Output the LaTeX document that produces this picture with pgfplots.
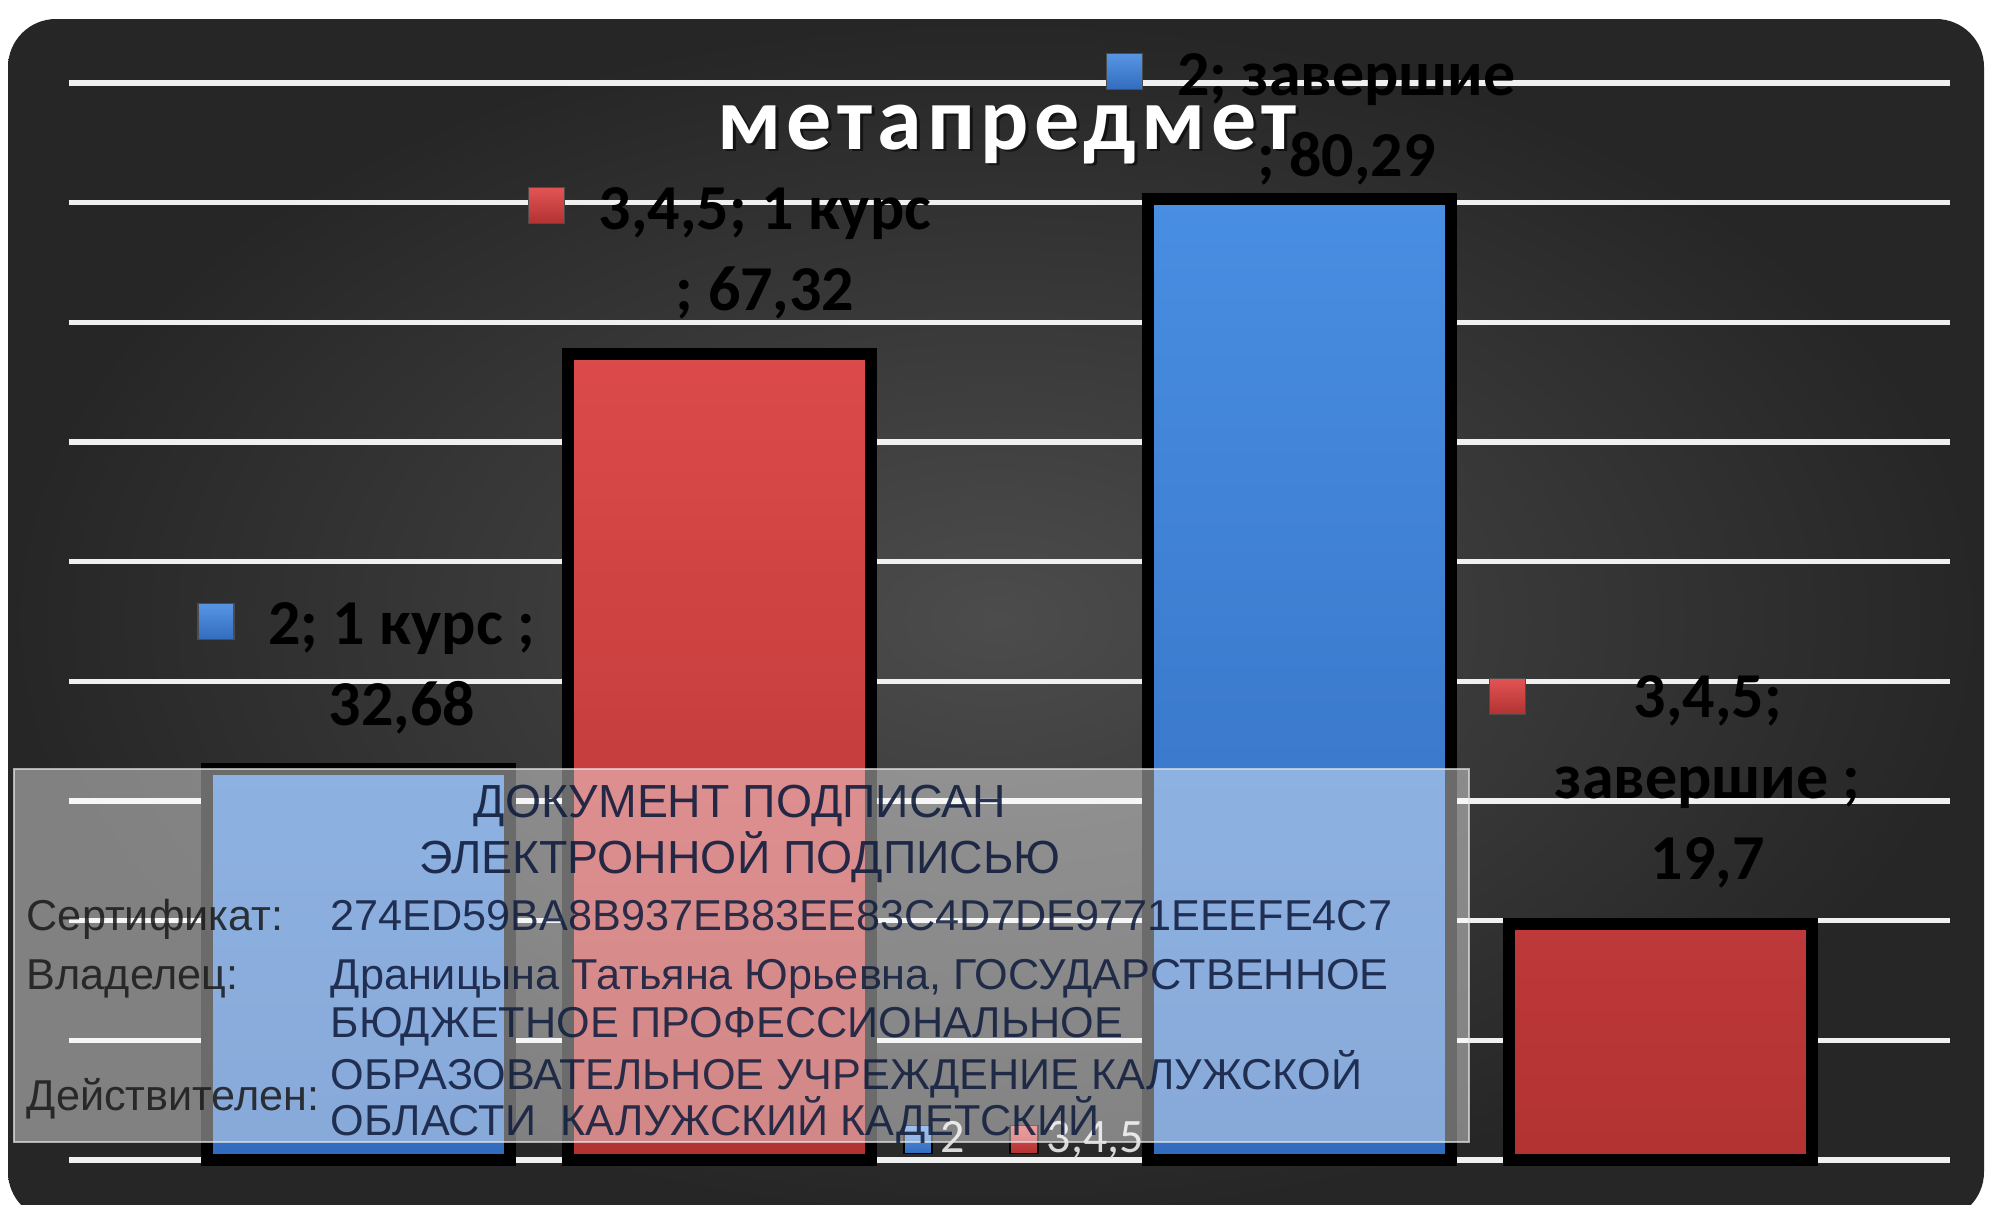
\documentclass[border=0pt]{standalone}
\usepackage{fontspec}
\setmainfont{Carlito}
\newfontfamily\stampfont{Liberation Sans}
\newfontfamily\titlefont[LetterSpace=6]{Carlito}
\usepackage{pgfplots}
\pgfplotsset{compat=1.18}

\definecolor{bgin}{RGB}{76,76,76}
\definecolor{bgout}{RGB}{38,38,38}
\definecolor{bluetop}{RGB}{72,142,226}
\definecolor{bluemid}{RGB}{62,127,210}
\definecolor{bluebot}{RGB}{50,108,190}
\definecolor{redtop}{RGB}{220,74,74}
\definecolor{redmid}{RGB}{206,64,64}
\definecolor{redbot}{RGB}{178,50,50}
\definecolor{keyblue}{RGB}{88,150,228}
\definecolor{keyred}{RGB}{226,84,84}
\definecolor{legtext}{RGB}{217,217,217}
\definecolor{stamptext}{RGB}{18,30,62}
\definecolor{gridc}{RGB}{240,240,240}

\begin{document}
\begin{tikzpicture}[
  lbl/.style={font=\fontsize{16}{20.25}\selectfont\bfseries, text=black, inner sep=0pt},
  keysq/.style={inner sep=0pt, minimum size=9pt, draw=black!70, line width=0.3pt},
  stamp/.style={font=\stampfont\fontsize{10.8}{13}\selectfont, inner sep=0pt, text=stamptext, text opacity=0.88},
  stamph/.style={font=\stampfont\fontsize{11.6}{14}\selectfont, inner sep=0pt, text=stamptext, text opacity=0.9},
  stampl/.style={font=\stampfont\fontsize{10.8}{13}\selectfont, inner sep=0pt, text=black!90, text opacity=0.85}
]
\useasboundingbox (0pt,0pt) rectangle (498pt,301pt);
\clip (0pt,0pt) rectangle (498pt,301pt);
\fill[white] (0pt,0pt) rectangle (498pt,301pt);
\shade[inner color=bgin, outer color=bgout, rounded corners=12pt] (2pt,-4pt) rectangle (496pt,296.25pt);

\begin{axis}[
  at={(17.25pt,11pt)}, anchor=south west,
  scale only axis, width=470.25pt, height=269.25pt,
  xmin=-0.5, xmax=1.5, ymin=0, ymax=90,
  ytick={0,10,...,90}, xtick=\empty, yticklabel=\empty,
  ymajorgrids, grid style={line width=1.3pt, color=gridc},
  axis line style={draw=none}, major tick length=0pt,
  clip=false,
  legend columns=2,
  legend style={at={(0.5096,0.019)}, anchor=center, draw=none, fill=none,
    text=legtext, font=\fontsize{12}{14}\selectfont, inner sep=0pt,
    /tikz/every even column/.append style={column sep=9pt}},
]
\addplot[ybar, bar width=0.322, bar shift=-0.192, draw=black, line width=3pt,
  top color=bluetop, middle color=bluemid, bottom color=bluebot, forget plot]
  coordinates {(0,32.68) (1,80.29)};
\addplot[ybar, bar width=0.322, bar shift=0.192, draw=black, line width=3pt,
  top color=redtop, middle color=redmid, bottom color=redbot, forget plot]
  coordinates {(0,67.32) (1,19.7)};

\addlegendimage{legend image code/.code={\fill[top color=keyblue,bottom color=bluebot] (0pt,-3.5pt) rectangle (7pt,3.5pt);}}
\addlegendentry{2}
\addlegendimage{legend image code/.code={\fill[top color=keyred,bottom color=redbot] (0pt,-3.5pt) rectangle (7pt,3.5pt);}}
\addlegendentry{3,4,5}

\node[lbl, anchor=base] (l1) at (axis cs:-0.1462,43.04) {\begin{tabular}[t]{@{}c@{}}2; 1 курс ;\\32,68\end{tabular}};
\node[keysq, top color=keyblue, bottom color=bluebot, anchor=south east] at ([xshift=-8.25pt,yshift=1.25pt]l1.base west) {};

\node[lbl, anchor=base] (l2) at (axis cs:0.2401,77.80) {\begin{tabular}[t]{@{}c@{}}3,4,5; 1 курс\\; 67,32\end{tabular}};
\node[keysq, top color=keyred, bottom color=redbot, anchor=south east] at ([xshift=-8.25pt,yshift=1.25pt]l2.base west) {};

\node[lbl, anchor=base] (l3) at (axis cs:0.8581,88.99) {\begin{tabular}[t]{@{}c@{}}2; завершие\\; 80,29\end{tabular}};
\node[keysq, top color=keyblue, bottom color=bluebot, anchor=south east] at ([xshift=-8.25pt,yshift=1.25pt]l3.base west) {};

\node[lbl, anchor=base] (l4) at (axis cs:1.2423,37.02) {\begin{tabular}[t]{@{}c@{}}3,4,5;\\завершие ;\\19,7\end{tabular}};
\node[keysq, top color=keyred, bottom color=redbot, anchor=south east] at ([xshift=-7pt,yshift=0.5pt]l4.base west) {};
\end{axis}

% title
\node[font=\titlefont\bfseries\fontsize{22.5}{27}\selectfont, text=black, opacity=0.55, anchor=base, inner sep=0pt] at (252.5pt,263.1pt) {метапредмет};
\node[font=\titlefont\bfseries\fontsize{22.5}{27}\selectfont, text=white, anchor=base, inner sep=0pt] at (251.75pt,263.75pt) {метапредмет};

% signature stamp
\fill[white, opacity=0.42] (3.5pt,15.5pt) rectangle (367.25pt,108.75pt);
\draw[white!80!gray, line width=0.6pt, opacity=0.7] (3.5pt,15.5pt) rectangle (367.25pt,108.75pt);
\begin{scope}
\clip (3.5pt,15.5pt) rectangle (367.25pt,108.75pt);
\node[stamph, anchor=base] at (185pt,96.75pt) {ДОКУМЕНТ ПОДПИСАН};
\node[stamph, anchor=base] at (185pt,82.75pt) {ЭЛЕКТРОННОЙ ПОДПИСЬЮ};
\node[stampl, anchor=base west] at (6.5pt,68.5pt) {Сертификат:};
\node[stamp, anchor=base west] at (82.5pt,68.5pt) {274ED59BA8B937EB83EE83C4D7DE9771EEEFE4C7};
\node[stampl, anchor=base west] at (6.5pt,53.75pt) {Владелец:};
\node[stamp, anchor=base west] at (82.5pt,53.75pt) {Драницына Татьяна Юрьевна, ГОСУДАРСТВЕННОЕ};
\node[stamp, anchor=base west] at (82.5pt,41.75pt) {БЮДЖЕТНОЕ ПРОФЕССИОНАЛЬНОЕ};
\node[stamp, anchor=base west] at (82.5pt,28.75pt) {ОБРАЗОВАТЕЛЬНОЕ УЧРЕЖДЕНИЕ КАЛУЖСКОЙ};
\node[stamp, anchor=base west] at (82.5pt,17.25pt) {ОБЛАСТИ\ \ КАЛУЖСКИЙ КАДЕТСКИЙ};
\node[stampl, anchor=base west] at (6.5pt,23.5pt) {Действителен:};
\end{scope}
\end{tikzpicture}
\end{document}
